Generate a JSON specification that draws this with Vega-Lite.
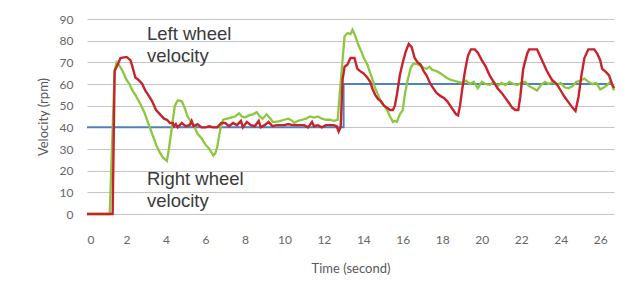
{
  "$schema": "https://vega.github.io/schema/vega-lite/v6.json",
  "autosize": {"type": "none"},
  "padding": {"left": 87, "top": 19, "right": 23, "bottom": 85},
  "width": 527,
  "height": 195,
  "background": "white",
  "config": {
    "view": {"stroke": null},
    "axis": {"domain": false, "ticks": false, "tickSize": 0, "labelFont": "Lato", "titleFont": "Lato", "labelColor": "#666666", "titleColor": "#595959", "labelFontSize": 12, "titleFontSize": 13, "titleFontWeight": "normal", "labelOverlap": false}
  },
  "datasets": {
    "lines": [
      {"t": 0, "v": 40, "s": "Setpoint"}, {"t": 13, "v": 40, "s": "Setpoint"}, {"t": 13, "v": 60, "s": "Setpoint"}, {"t": 26.6, "v": 60, "s": "Setpoint"},

      {"t": 0, "v": 0, "s": "Right"}, {"t": 1.15, "v": 0, "s": "Right"}, {"t": 1.4, "v": 66, "s": "Right"}, {"t": 1.5, "v": 70, "s": "Right"}, {"t": 1.6, "v": 69, "s": "Right"}, {"t": 1.8, "v": 66, "s": "Right"}, {"t": 2.0, "v": 62, "s": "Right"}, {"t": 2.15, "v": 60, "s": "Right"}, {"t": 2.3, "v": 57, "s": "Right"}, {"t": 2.45, "v": 55, "s": "Right"}, {"t": 2.6, "v": 52.5, "s": "Right"}, {"t": 2.75, "v": 50, "s": "Right"}, {"t": 2.9, "v": 47, "s": "Right"}, {"t": 3.1, "v": 42, "s": "Right"}, {"t": 3.3, "v": 37, "s": "Right"}, {"t": 3.5, "v": 32, "s": "Right"}, {"t": 3.65, "v": 29, "s": "Right"}, {"t": 3.85, "v": 26, "s": "Right"}, {"t": 4.05, "v": 24.5, "s": "Right"}, {"t": 4.15, "v": 30, "s": "Right"}, {"t": 4.3, "v": 40, "s": "Right"}, {"t": 4.45, "v": 50, "s": "Right"}, {"t": 4.6, "v": 52.5, "s": "Right"}, {"t": 4.8, "v": 52, "s": "Right"}, {"t": 4.95, "v": 49, "s": "Right"}, {"t": 5.1, "v": 45, "s": "Right"}, {"t": 5.3, "v": 42, "s": "Right"}, {"t": 5.45, "v": 40, "s": "Right"}, {"t": 5.6, "v": 37, "s": "Right"}, {"t": 5.8, "v": 35, "s": "Right"}, {"t": 6.0, "v": 32, "s": "Right"}, {"t": 6.2, "v": 30, "s": "Right"}, {"t": 6.4, "v": 27, "s": "Right"}, {"t": 6.5, "v": 28, "s": "Right"}, {"t": 6.6, "v": 31, "s": "Right"}, {"t": 6.75, "v": 39, "s": "Right"}, {"t": 6.9, "v": 43.5, "s": "Right"}, {"t": 7.1, "v": 44, "s": "Right"}, {"t": 7.3, "v": 44.5, "s": "Right"}, {"t": 7.5, "v": 45, "s": "Right"}, {"t": 7.7, "v": 46.5, "s": "Right"}, {"t": 7.85, "v": 45, "s": "Right"}, {"t": 8.0, "v": 44.5, "s": "Right"}, {"t": 8.2, "v": 45.5, "s": "Right"}, {"t": 8.4, "v": 46, "s": "Right"}, {"t": 8.6, "v": 47, "s": "Right"}, {"t": 8.75, "v": 45, "s": "Right"}, {"t": 8.9, "v": 44, "s": "Right"}, {"t": 9.1, "v": 46, "s": "Right"}, {"t": 9.3, "v": 44, "s": "Right"}, {"t": 9.4, "v": 42.5, "s": "Right"}, {"t": 9.6, "v": 42.5, "s": "Right"}, {"t": 9.8, "v": 43, "s": "Right"}, {"t": 10.0, "v": 43.5, "s": "Right"}, {"t": 10.2, "v": 44, "s": "Right"}, {"t": 10.4, "v": 43, "s": "Right"}, {"t": 10.5, "v": 42, "s": "Right"}, {"t": 10.7, "v": 43, "s": "Right"}, {"t": 10.9, "v": 43.5, "s": "Right"}, {"t": 11.1, "v": 44, "s": "Right"}, {"t": 11.3, "v": 45, "s": "Right"}, {"t": 11.5, "v": 44.5, "s": "Right"}, {"t": 11.7, "v": 45, "s": "Right"}, {"t": 11.9, "v": 44, "s": "Right"}, {"t": 12.1, "v": 43.5, "s": "Right"}, {"t": 12.3, "v": 43.5, "s": "Right"}, {"t": 12.5, "v": 43, "s": "Right"}, {"t": 12.7, "v": 43.5, "s": "Right"}, {"t": 12.8, "v": 55, "s": "Right"}, {"t": 12.9, "v": 66, "s": "Right"}, {"t": 13.05, "v": 82, "s": "Right"}, {"t": 13.2, "v": 83.5, "s": "Right"}, {"t": 13.35, "v": 83, "s": "Right"}, {"t": 13.45, "v": 85, "s": "Right"}, {"t": 13.6, "v": 82, "s": "Right"}, {"t": 13.75, "v": 78, "s": "Right"}, {"t": 13.9, "v": 75, "s": "Right"}, {"t": 14.0, "v": 72.5, "s": "Right"}, {"t": 14.2, "v": 69, "s": "Right"}, {"t": 14.35, "v": 65, "s": "Right"}, {"t": 14.45, "v": 62.5, "s": "Right"}, {"t": 14.6, "v": 58, "s": "Right"}, {"t": 14.75, "v": 55, "s": "Right"}, {"t": 14.9, "v": 51.5, "s": "Right"}, {"t": 15.05, "v": 50, "s": "Right"}, {"t": 15.2, "v": 48, "s": "Right"}, {"t": 15.35, "v": 45, "s": "Right"}, {"t": 15.5, "v": 42.5, "s": "Right"}, {"t": 15.6, "v": 43, "s": "Right"}, {"t": 15.7, "v": 42.5, "s": "Right"}, {"t": 15.85, "v": 46, "s": "Right"}, {"t": 16.0, "v": 48, "s": "Right"}, {"t": 16.1, "v": 55, "s": "Right"}, {"t": 16.25, "v": 62, "s": "Right"}, {"t": 16.4, "v": 67.5, "s": "Right"}, {"t": 16.55, "v": 69.5, "s": "Right"}, {"t": 16.75, "v": 69, "s": "Right"}, {"t": 16.9, "v": 68.5, "s": "Right"}, {"t": 17.05, "v": 67.5, "s": "Right"}, {"t": 17.2, "v": 67, "s": "Right"}, {"t": 17.35, "v": 68, "s": "Right"}, {"t": 17.5, "v": 66.5, "s": "Right"}, {"t": 17.7, "v": 66, "s": "Right"}, {"t": 17.9, "v": 65, "s": "Right"}, {"t": 18.05, "v": 64, "s": "Right"}, {"t": 18.2, "v": 63, "s": "Right"}, {"t": 18.4, "v": 62, "s": "Right"}, {"t": 18.6, "v": 61.5, "s": "Right"}, {"t": 18.8, "v": 61, "s": "Right"}, {"t": 19.0, "v": 60.5, "s": "Right"}, {"t": 19.2, "v": 61.5, "s": "Right"}, {"t": 19.4, "v": 60, "s": "Right"}, {"t": 19.6, "v": 61, "s": "Right"}, {"t": 19.8, "v": 58, "s": "Right"}, {"t": 20.0, "v": 61, "s": "Right"}, {"t": 20.2, "v": 60, "s": "Right"}, {"t": 20.4, "v": 59.5, "s": "Right"}, {"t": 20.6, "v": 61, "s": "Right"}, {"t": 20.8, "v": 59, "s": "Right"}, {"t": 21.0, "v": 60.5, "s": "Right"}, {"t": 21.2, "v": 59.5, "s": "Right"}, {"t": 21.4, "v": 61, "s": "Right"}, {"t": 21.6, "v": 60, "s": "Right"}, {"t": 21.8, "v": 59.5, "s": "Right"}, {"t": 22.0, "v": 60.5, "s": "Right"}, {"t": 22.2, "v": 61, "s": "Right"}, {"t": 22.4, "v": 59, "s": "Right"}, {"t": 22.6, "v": 58, "s": "Right"}, {"t": 22.8, "v": 57, "s": "Right"}, {"t": 23.0, "v": 59.5, "s": "Right"}, {"t": 23.2, "v": 61, "s": "Right"}, {"t": 23.4, "v": 60, "s": "Right"}, {"t": 23.6, "v": 61, "s": "Right"}, {"t": 23.8, "v": 59.5, "s": "Right"}, {"t": 24.0, "v": 60.5, "s": "Right"}, {"t": 24.2, "v": 58.5, "s": "Right"}, {"t": 24.4, "v": 58, "s": "Right"}, {"t": 24.6, "v": 59, "s": "Right"}, {"t": 24.8, "v": 61, "s": "Right"}, {"t": 25.0, "v": 61.5, "s": "Right"}, {"t": 25.2, "v": 62.5, "s": "Right"}, {"t": 25.4, "v": 61, "s": "Right"}, {"t": 25.6, "v": 60, "s": "Right"}, {"t": 25.8, "v": 60.5, "s": "Right"}, {"t": 26.0, "v": 57.5, "s": "Right"}, {"t": 26.2, "v": 58.5, "s": "Right"}, {"t": 26.35, "v": 59.5, "s": "Right"}, {"t": 26.5, "v": 61, "s": "Right"}, {"t": 26.6, "v": 60, "s": "Right"}, {"t": 26.7, "v": 57, "s": "Right"},

      {"t": 0, "v": 0, "s": "Left"}, {"t": 1.3, "v": 0, "s": "Left"}, {"t": 1.4, "v": 66, "s": "Left"}, {"t": 1.5, "v": 68, "s": "Left"}, {"t": 1.7, "v": 72, "s": "Left"}, {"t": 2.0, "v": 72.5, "s": "Left"}, {"t": 2.2, "v": 71, "s": "Left"}, {"t": 2.3, "v": 68, "s": "Left"}, {"t": 2.45, "v": 63, "s": "Left"}, {"t": 2.6, "v": 62, "s": "Left"}, {"t": 2.8, "v": 60, "s": "Left"}, {"t": 2.95, "v": 57, "s": "Left"}, {"t": 3.1, "v": 55, "s": "Left"}, {"t": 3.3, "v": 52, "s": "Left"}, {"t": 3.5, "v": 48, "s": "Left"}, {"t": 3.7, "v": 46, "s": "Left"}, {"t": 3.9, "v": 44, "s": "Left"}, {"t": 4.05, "v": 43.5, "s": "Left"}, {"t": 4.2, "v": 42, "s": "Left"}, {"t": 4.35, "v": 42, "s": "Left"}, {"t": 4.4, "v": 40.5, "s": "Left"}, {"t": 4.5, "v": 41.5, "s": "Left"}, {"t": 4.6, "v": 40, "s": "Left"}, {"t": 4.8, "v": 42, "s": "Left"}, {"t": 5.0, "v": 40.5, "s": "Left"}, {"t": 5.2, "v": 41, "s": "Left"}, {"t": 5.3, "v": 43, "s": "Left"}, {"t": 5.4, "v": 40.5, "s": "Left"}, {"t": 5.6, "v": 41.5, "s": "Left"}, {"t": 5.8, "v": 40, "s": "Left"}, {"t": 6.0, "v": 40, "s": "Left"}, {"t": 6.2, "v": 40.5, "s": "Left"}, {"t": 6.4, "v": 40, "s": "Left"}, {"t": 6.6, "v": 40, "s": "Left"}, {"t": 6.8, "v": 42, "s": "Left"}, {"t": 7.0, "v": 42, "s": "Left"}, {"t": 7.2, "v": 40.5, "s": "Left"}, {"t": 7.4, "v": 42, "s": "Left"}, {"t": 7.6, "v": 41, "s": "Left"}, {"t": 7.8, "v": 43, "s": "Left"}, {"t": 7.9, "v": 40, "s": "Left"}, {"t": 8.1, "v": 42.5, "s": "Left"}, {"t": 8.3, "v": 41, "s": "Left"}, {"t": 8.5, "v": 40.5, "s": "Left"}, {"t": 8.7, "v": 43, "s": "Left"}, {"t": 8.8, "v": 40, "s": "Left"}, {"t": 9.0, "v": 41, "s": "Left"}, {"t": 9.2, "v": 42.5, "s": "Left"}, {"t": 9.4, "v": 40.5, "s": "Left"}, {"t": 9.6, "v": 41, "s": "Left"}, {"t": 9.8, "v": 41, "s": "Left"}, {"t": 10.0, "v": 41, "s": "Left"}, {"t": 10.2, "v": 41.5, "s": "Left"}, {"t": 10.4, "v": 41, "s": "Left"}, {"t": 10.6, "v": 41, "s": "Left"}, {"t": 10.8, "v": 41, "s": "Left"}, {"t": 11.0, "v": 41, "s": "Left"}, {"t": 11.2, "v": 40, "s": "Left"}, {"t": 11.4, "v": 42.5, "s": "Left"}, {"t": 11.5, "v": 40.5, "s": "Left"}, {"t": 11.7, "v": 41, "s": "Left"}, {"t": 11.9, "v": 40, "s": "Left"}, {"t": 12.1, "v": 41, "s": "Left"}, {"t": 12.3, "v": 41, "s": "Left"}, {"t": 12.5, "v": 41, "s": "Left"}, {"t": 12.65, "v": 40.5, "s": "Left"}, {"t": 12.75, "v": 38, "s": "Left"}, {"t": 12.85, "v": 40, "s": "Left"}, {"t": 12.95, "v": 62, "s": "Left"}, {"t": 13.05, "v": 68, "s": "Left"}, {"t": 13.2, "v": 69, "s": "Left"}, {"t": 13.35, "v": 72, "s": "Left"}, {"t": 13.55, "v": 72, "s": "Left"}, {"t": 13.7, "v": 67, "s": "Left"}, {"t": 13.9, "v": 65.5, "s": "Left"}, {"t": 14.0, "v": 65, "s": "Left"}, {"t": 14.2, "v": 63, "s": "Left"}, {"t": 14.35, "v": 61, "s": "Left"}, {"t": 14.45, "v": 58, "s": "Left"}, {"t": 14.6, "v": 55, "s": "Left"}, {"t": 14.75, "v": 53, "s": "Left"}, {"t": 14.9, "v": 52, "s": "Left"}, {"t": 15.05, "v": 50, "s": "Left"}, {"t": 15.2, "v": 49, "s": "Left"}, {"t": 15.35, "v": 48, "s": "Left"}, {"t": 15.5, "v": 48, "s": "Left"}, {"t": 15.6, "v": 50, "s": "Left"}, {"t": 15.7, "v": 55, "s": "Left"}, {"t": 15.85, "v": 64, "s": "Left"}, {"t": 16.0, "v": 70, "s": "Left"}, {"t": 16.15, "v": 75, "s": "Left"}, {"t": 16.3, "v": 78.5, "s": "Left"}, {"t": 16.45, "v": 77, "s": "Left"}, {"t": 16.6, "v": 72, "s": "Left"}, {"t": 16.75, "v": 70, "s": "Left"}, {"t": 16.9, "v": 69, "s": "Left"}, {"t": 17.05, "v": 66, "s": "Left"}, {"t": 17.2, "v": 64, "s": "Left"}, {"t": 17.4, "v": 60, "s": "Left"}, {"t": 17.55, "v": 58, "s": "Left"}, {"t": 17.7, "v": 56, "s": "Left"}, {"t": 17.9, "v": 54.5, "s": "Left"}, {"t": 18.1, "v": 53.5, "s": "Left"}, {"t": 18.25, "v": 52, "s": "Left"}, {"t": 18.4, "v": 50, "s": "Left"}, {"t": 18.55, "v": 48, "s": "Left"}, {"t": 18.7, "v": 46, "s": "Left"}, {"t": 18.8, "v": 45.5, "s": "Left"}, {"t": 18.9, "v": 50, "s": "Left"}, {"t": 19.0, "v": 57, "s": "Left"}, {"t": 19.15, "v": 66, "s": "Left"}, {"t": 19.3, "v": 73, "s": "Left"}, {"t": 19.45, "v": 76, "s": "Left"}, {"t": 19.65, "v": 76, "s": "Left"}, {"t": 19.8, "v": 74.5, "s": "Left"}, {"t": 20.0, "v": 71, "s": "Left"}, {"t": 20.2, "v": 68, "s": "Left"}, {"t": 20.4, "v": 64, "s": "Left"}, {"t": 20.6, "v": 61, "s": "Left"}, {"t": 20.8, "v": 58, "s": "Left"}, {"t": 21.0, "v": 56, "s": "Left"}, {"t": 21.2, "v": 53.5, "s": "Left"}, {"t": 21.4, "v": 51, "s": "Left"}, {"t": 21.55, "v": 49, "s": "Left"}, {"t": 21.7, "v": 48, "s": "Left"}, {"t": 21.85, "v": 48, "s": "Left"}, {"t": 21.95, "v": 54, "s": "Left"}, {"t": 22.1, "v": 67, "s": "Left"}, {"t": 22.3, "v": 74, "s": "Left"}, {"t": 22.4, "v": 76, "s": "Left"}, {"t": 22.8, "v": 76, "s": "Left"}, {"t": 23.0, "v": 72, "s": "Left"}, {"t": 23.3, "v": 66, "s": "Left"}, {"t": 23.55, "v": 62, "s": "Left"}, {"t": 23.8, "v": 60, "s": "Left"}, {"t": 24.0, "v": 57, "s": "Left"}, {"t": 24.2, "v": 54, "s": "Left"}, {"t": 24.4, "v": 51.5, "s": "Left"}, {"t": 24.6, "v": 49, "s": "Left"}, {"t": 24.75, "v": 47.5, "s": "Left"}, {"t": 24.9, "v": 54, "s": "Left"}, {"t": 25.05, "v": 64, "s": "Left"}, {"t": 25.2, "v": 72, "s": "Left"}, {"t": 25.4, "v": 76, "s": "Left"}, {"t": 25.7, "v": 76, "s": "Left"}, {"t": 25.85, "v": 74, "s": "Left"}, {"t": 26.0, "v": 71, "s": "Left"}, {"t": 26.1, "v": 67, "s": "Left"}, {"t": 26.3, "v": 65.5, "s": "Left"}, {"t": 26.45, "v": 64, "s": "Left"}, {"t": 26.6, "v": 60, "s": "Left"}, {"t": 26.7, "v": 58, "s": "Left"}
    ],
    "labels": [
      {"t": 3.04, "v": 83.3, "label": "Left wheel"},
      {"t": 3.04, "v": 72.8, "label": "velocity"},
      {"t": 3.04, "v": 16.1, "label": "Right wheel"},
      {"t": 3.04, "v": 6.0, "label": "velocity"}
    ]
  },
  "encoding": {
    "x": {"field": "t", "type": "quantitative", "scale": {"domain": [0, 26.7], "nice": false}, "axis": {"values": [0, 2, 4, 6, 8, 10, 12, 14, 16, 18, 20, 22, 24, 26], "title": "Time (second)", "grid": false, "labelPadding": 20, "titleY": 54, "titleBaseline": "middle"}},
    "y": {"field": "v", "type": "quantitative", "scale": {"domain": [0, 90], "nice": false}, "axis": {"values": [0, 10, 20, 30, 40, 50, 60, 70, 80, 90], "title": "Velocity (rpm)", "grid": true, "gridColor": "#c4c4c4", "gridWidth": 1, "labelPadding": 14, "titleX": -44, "titleBaseline": "middle"}}
  },
  "layer": [
    {
      "data": {"name": "lines"},
      "transform": [{"filter": "datum.s === 'Setpoint'"}],
      "mark": {"type": "line", "color": "#4f81bd", "strokeWidth": 2}
    },
    {
      "data": {"name": "lines"},
      "transform": [{"filter": "datum.s === 'Right'"}],
      "mark": {"type": "line", "color": "#8dc63f", "strokeWidth": 2.3}
    },
    {
      "data": {"name": "lines"},
      "transform": [{"filter": "datum.s === 'Left'"}],
      "mark": {"type": "line", "color": "#c8232c", "strokeWidth": 2.4}
    },
    {
      "data": {"name": "labels"},
      "mark": {"type": "text", "align": "left", "baseline": "middle", "font": "Liberation Sans", "fontSize": 18.5, "color": "#3a3a3a"},
      "encoding": {
        "text": {"field": "label"}
      }
    }
  ]
}
